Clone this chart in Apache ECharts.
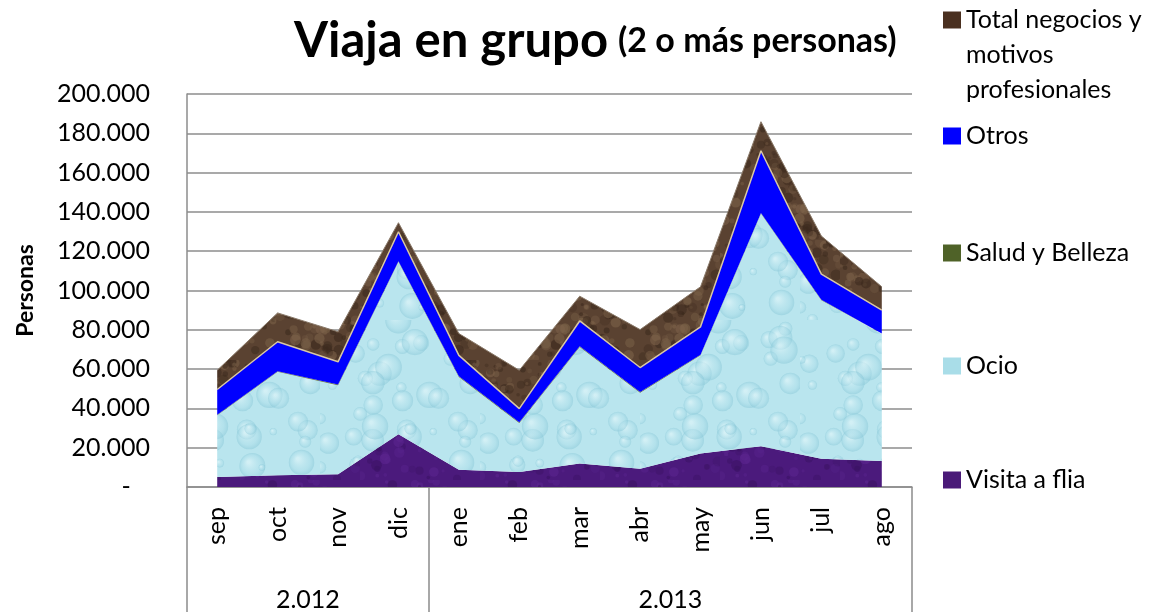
<!DOCTYPE html>
<html>
<head>
<meta charset="utf-8">
<script src="https://cdn.jsdelivr.net/npm/echarts@6/dist/echarts.min.js"></script>
<style>
  html, body { margin: 0; padding: 0; background: #fff; }
  #main { width: 1172px; height: 612px; }
</style>
</head>
<body>
<div id="main"></div>
<script>
// datos
var months = ['sep', 'oct', 'nov', 'dic', 'ene', 'feb', 'mar', 'abr', 'may', 'jun', 'jul', 'ago'];
var years = ['2.012', '2.013'];
var yearSpans = [4, 8];
var visita = [5100, 6000, 6500, 26800, 8800, 7600, 11900, 9300, 17000, 20700, 14400, 13200];
var ocio = [31400, 52600, 45300, 87800, 47200, 25000, 59400, 38700, 50000, 118500, 80600, 64600];
var salud = [300, 300, 300, 300, 300, 300, 300, 300, 300, 300, 300, 300];
var otros = [12800, 15000, 11600, 15000, 10700, 7000, 12900, 12500, 14200, 31600, 13000, 11900];
var negocios = [9800, 14700, 15300, 4600, 11100, 19500, 12600, 19300, 20400, 14800, 19400, 11900];

var FONT = 'Lato';
var GRIS = '#8c8c8c';

// texturas (solo decoracion)
var seed = 7;
function rnd() { seed = (seed * 16807) % 2147483647; return (seed - 1) / 2147483646; }

function gotas() {
    var c = document.createElement('canvas');
    c.width = 160; c.height = 160;
    var ctx = c.getContext('2d');
    ctx.fillStyle = '#b9e5ee';
    ctx.fillRect(0, 0, 160, 160);
    for (var i = 0; i < 45; i++) {
        var x = rnd() * 160, y = rnd() * 160, r = 3 + rnd() * 11;
        var g = ctx.createRadialGradient(x - r * 0.3, y - r * 0.3, r * 0.1, x, y, r);
        g.addColorStop(0, 'rgba(235,250,252,0.5)');
        g.addColorStop(0.7, 'rgba(170,220,232,0.35)');
        g.addColorStop(1, 'rgba(130,195,212,0.45)');
        ctx.fillStyle = g;
        ctx.beginPath(); ctx.arc(x, y, r, 0, Math.PI * 2); ctx.fill();
    }
    return c;
}

function manchas(base, claro, oscuro, n) {
    var c = document.createElement('canvas');
    c.width = 120; c.height = 120;
    var ctx = c.getContext('2d');
    ctx.fillStyle = base;
    ctx.fillRect(0, 0, 120, 120);
    for (var i = 0; i < n; i++) {
        ctx.fillStyle = i % 2 ? claro : oscuro;
        ctx.globalAlpha = 0.25 + rnd() * 0.35;
        ctx.beginPath(); ctx.arc(rnd() * 120, rnd() * 120, 1.5 + rnd() * 4, 0, Math.PI * 2); ctx.fill();
    }
    return c;
}

var texOcio = gotas();
var texNeg = manchas('#5a4231', '#7d634a', '#3a281c', 220);
var texVis = manchas('#4b1a7c', '#5c2690', '#3a1262', 120);

function miles(v) {
    if (v === 0) return '-   ';
    return String(v).replace(/\B(?=(\d{3})+(?!\d))/g, '.');
}

var yearTicks = [0];
var yearCenters = [];
yearSpans.forEach(function (s) {
    var a = yearTicks[yearTicks.length - 1];
    yearCenters.push(a + s / 2);
    yearTicks.push(a + s);
});

function serie(name, data, color, area, line) {
    return {
        name: name,
        type: 'line',
        stack: 'total',
        data: data,
        symbol: 'none',
        xAxisIndex: 0,
        itemStyle: { color: color },
        lineStyle: line || { width: 0, opacity: 0 },
        areaStyle: { color: area, opacity: 1 },
        emphasis: { disabled: true }
    };
}

function leyenda(name, top, formatter) {
    var l = {
        data: [name],
        left: 943,
        top: top,
        orient: 'vertical',
        padding: 0,
        icon: 'rect',
        itemWidth: 18,
        itemHeight: 17,
        selectedMode: false,
        textStyle: { fontFamily: FONT, fontSize: 25, color: '#000', lineHeight: 35 }
    };
    if (formatter) l.formatter = formatter;
    return l;
}

var myChart = echarts.init(document.getElementById('main'));
var option = {
    backgroundColor: '#fff',
    animation: false,
    title: {
        left: 289,
        top: 12,
        text: '{a|Viaja en grupo}  {b|(2 o más personas)}',
        textStyle: {
            rich: {
                a: { fontFamily: FONT, fontSize: 49, fontWeight: 'bold', color: '#000' },
                b: { fontFamily: FONT, fontSize: 34, fontWeight: 'bold', color: '#000' }
            }
        }
    },
    legend: [
        // dos lineas vacias arriba para que el icono quede junto a la primera linea
        leyenda('Total negocios y motivos profesionales', -67.5, function () {
            return '\n\nTotal negocios y\nmotivos\nprofesionales';
        }),
        leyenda('Otros', 118.5),
        leyenda('Salud y Belleza', 235.5),
        leyenda('Ocio', 348.5),
        leyenda('Visita a flia', 462.5)
    ],
    grid: { left: 187, top: 94, width: 725, height: 393 },
    xAxis: [{
        type: 'category',
        data: months,
        boundaryGap: true,
        axisLine: { lineStyle: { color: GRIS, width: 1.5 } },
        axisTick: { show: false },
        axisLabel: { rotate: 90, margin: 20, fontFamily: FONT, fontSize: 25, color: '#000' }
    }, {
        type: 'value',
        min: 0,
        max: 12,
        position: 'bottom',
        axisLine: { show: false },
        splitLine: { show: false },
        axisTick: { show: true, customValues: yearTicks, length: 125, lineStyle: { color: GRIS, width: 1.5 } },
        axisLabel: {
            customValues: yearCenters,
            margin: 100,
            fontFamily: FONT, fontSize: 25, color: '#000',
            formatter: function (v) { return years[yearCenters.indexOf(v)]; }
        }
    }],
    yAxis: {
        type: 'value',
        min: 0,
        max: 200000,
        interval: 20000,
        name: 'Personas',
        nameLocation: 'middle',
        nameGap: 150,
        nameTextStyle: { fontFamily: FONT, fontSize: 23, fontWeight: 'bold', color: '#000' },
        axisLine: { show: true, lineStyle: { color: GRIS, width: 1.5 } },
        axisTick: { show: false },
        splitLine: { lineStyle: { color: GRIS, width: 1.5 } },
        axisLabel: { margin: 37, fontFamily: FONT, fontSize: 25, color: '#000', formatter: miles }
    },
    series: [
        serie('Visita a flia', visita, '#4a1a78', { image: texVis, repeat: 'repeat' }),
        serie('Ocio', ocio, '#a9dde8', { image: texOcio, repeat: 'repeat' }),
        serie('Salud y Belleza', salud, '#4f6228', '#4f6228'),
        serie('Otros', otros, '#0000ff', '#0000ff', { width: 1.5, color: '#d8c6a6' }),
        serie('Total negocios y motivos profesionales', negocios, '#4a3020', { image: texNeg, repeat: 'repeat' }, { width: 1, color: '#8a7a6a' })
    ]
};
myChart.setOption(option);
</script>
</body>
</html>
